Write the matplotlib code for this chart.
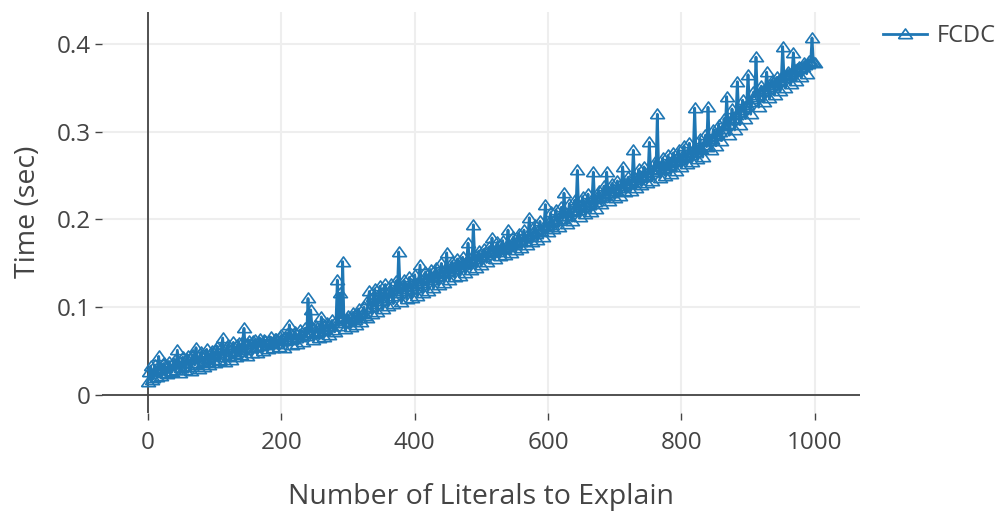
import numpy as np
import matplotlib.pyplot as plt

# literals to explain (x) and solve time in seconds (y)
# points at x = 0, 4, 8, ... 1000
literals = list(range(0, 1001, 4))
time_sec = [
    0.015, 0.033, 0.019, 0.030, 0.044, 0.022, 0.036, 0.024, 0.038, 0.026,
    0.040, 0.051, 0.025, 0.043, 0.028, 0.045, 0.027, 0.046, 0.054, 0.030,
    0.049, 0.032, 0.052, 0.034, 0.050, 0.036, 0.055, 0.040, 0.065, 0.038,
    0.057, 0.040, 0.060, 0.043, 0.059, 0.046, 0.076, 0.045, 0.062, 0.048,
    0.063, 0.048, 0.064, 0.050, 0.061, 0.052, 0.066, 0.053, 0.064, 0.055,
    0.068, 0.054, 0.070, 0.080, 0.057, 0.072, 0.058, 0.074, 0.060, 0.076,
    0.110, 0.097, 0.063, 0.079, 0.065, 0.089, 0.066, 0.082, 0.068, 0.085,
    0.072, 0.131, 0.116, 0.152, 0.075, 0.090, 0.078, 0.094, 0.080, 0.098,
    0.083, 0.100, 0.088, 0.118, 0.092, 0.121, 0.095, 0.124, 0.098, 0.126,
    0.101, 0.127, 0.104, 0.130, 0.163, 0.106, 0.131, 0.109, 0.134, 0.111,
    0.137, 0.113, 0.148, 0.116, 0.140, 0.119, 0.143, 0.122, 0.145, 0.125,
    0.150, 0.128, 0.162, 0.131, 0.152, 0.134, 0.155, 0.136, 0.157, 0.139,
    0.173, 0.143, 0.194, 0.145, 0.164, 0.148, 0.166, 0.151, 0.169, 0.179,
    0.155, 0.174, 0.158, 0.176, 0.160, 0.188, 0.162, 0.180, 0.165, 0.184,
    0.168, 0.188, 0.171, 0.202, 0.174, 0.194, 0.177, 0.198, 0.180, 0.217,
    0.186, 0.208, 0.189, 0.211, 0.192, 0.214, 0.230, 0.195, 0.218, 0.198,
    0.222, 0.256, 0.203, 0.226, 0.206, 0.229, 0.209, 0.254, 0.212, 0.233,
    0.218, 0.238, 0.254, 0.221, 0.241, 0.224, 0.244, 0.227, 0.260, 0.231,
    0.248, 0.233, 0.279, 0.236, 0.257, 0.239, 0.260, 0.242, 0.288, 0.244,
    0.266, 0.320, 0.247, 0.270, 0.250, 0.273, 0.252, 0.276, 0.255, 0.279,
    0.260, 0.284, 0.263, 0.287, 0.266, 0.327, 0.269, 0.292, 0.271, 0.296,
    0.328, 0.279, 0.302, 0.284, 0.308, 0.290, 0.315, 0.340, 0.296, 0.326,
    0.302, 0.357, 0.308, 0.336, 0.315, 0.365, 0.320, 0.345, 0.385, 0.328,
    0.352, 0.334, 0.368, 0.338, 0.358, 0.342, 0.362, 0.346, 0.397, 0.350,
    0.368, 0.354, 0.390, 0.358, 0.374, 0.362, 0.378, 0.366, 0.381, 0.407,
    0.378,
]
# points in between, at x = 2, 6, 10, ... 998
literals_mid = list(range(2, 1000, 4))
time_sec_mid = [
    0.026, 0.017, 0.034, 0.021, 0.031, 0.035, 0.025, 0.033, 0.027, 0.037,
    0.029, 0.038, 0.031, 0.036, 0.041, 0.032, 0.044, 0.034, 0.037, 0.047,
    0.036, 0.046, 0.038, 0.048, 0.040, 0.051, 0.039, 0.053, 0.043, 0.055,
    0.044, 0.054, 0.047, 0.057, 0.049, 0.062, 0.051, 0.058, 0.053, 0.061,
    0.055, 0.060, 0.056, 0.063, 0.057, 0.061, 0.059, 0.064, 0.058, 0.066,
    0.061, 0.066, 0.063, 0.069, 0.064, 0.070, 0.066, 0.068, 0.071, 0.067,
    0.072, 0.078, 0.070, 0.076, 0.073, 0.081, 0.075, 0.078, 0.079, 0.074,
    0.084, 0.079, 0.088, 0.082, 0.087, 0.083, 0.089, 0.086, 0.092, 0.088,
    0.094, 0.090, 0.108, 0.100, 0.112, 0.104, 0.115, 0.107, 0.118, 0.110,
    0.118, 0.113, 0.121, 0.116, 0.124, 0.119, 0.123, 0.121, 0.126, 0.124,
    0.126, 0.130, 0.128, 0.133, 0.131, 0.135, 0.133, 0.138, 0.136, 0.140,
    0.139, 0.144, 0.141, 0.146, 0.144, 0.148, 0.146, 0.150, 0.149, 0.153,
    0.156, 0.152, 0.158, 0.155, 0.160, 0.157, 0.162, 0.160, 0.164, 0.163,
    0.166, 0.163, 0.168, 0.166, 0.171, 0.169, 0.173, 0.171, 0.176, 0.174,
    0.180, 0.176, 0.183, 0.180, 0.186, 0.184, 0.189, 0.187, 0.193, 0.191,
    0.197, 0.194, 0.201, 0.198, 0.204, 0.201, 0.207, 0.204, 0.210, 0.208,
    0.214, 0.211, 0.217, 0.214, 0.220, 0.217, 0.223, 0.220, 0.226, 0.224,
    0.229, 0.227, 0.232, 0.230, 0.235, 0.233, 0.238, 0.236, 0.242, 0.240,
    0.244, 0.242, 0.247, 0.245, 0.250, 0.248, 0.253, 0.251, 0.256, 0.254,
    0.258, 0.256, 0.261, 0.259, 0.264, 0.262, 0.267, 0.265, 0.270, 0.268,
    0.273, 0.271, 0.276, 0.274, 0.279, 0.277, 0.282, 0.280, 0.285, 0.283,
    0.289, 0.292, 0.295, 0.297, 0.300, 0.303, 0.306, 0.309, 0.313, 0.316,
    0.319, 0.322, 0.325, 0.328, 0.331, 0.334, 0.337, 0.340, 0.342, 0.345,
    0.347, 0.349, 0.351, 0.353, 0.355, 0.357, 0.359, 0.361, 0.363, 0.365,
    0.366, 0.368, 0.370, 0.371, 0.373, 0.374, 0.376, 0.377, 0.379, 0.380,
]
x_ticks = [0, 200, 400, 600, 800, 1000]
y_ticks = [0, 0.1, 0.2, 0.3, 0.4]
y_tick_labels = ['0', '0.1', '0.2', '0.3', '0.4']

# one series, ordered by x
x_all, y_all = [], []
for i in range(len(literals_mid)):
    x_all += [literals[i], literals_mid[i]]
    y_all += [time_sec[i], time_sec_mid[i]]
x_all.append(literals[-1])
y_all.append(time_sec[-1])

plt.rcParams['font.family'] = ['Open Sans', 'DejaVu Sans']
blue = '#1f77b4'
grey = '#444444'

# plotly-like wide triangle
tri = [(-1, -0.6), (1, -0.6), (0, 0.8), (-1, -0.6)]

fig = plt.figure(figsize=(10, 5.12), dpi=100)
ax = fig.add_axes([0.102, 0.1934, 0.758, 0.7832])

ax.plot(x_all, y_all, color=blue, lw=2.0, marker=tri, markersize=10,
        markerfacecolor='none', markeredgecolor=blue, markeredgewidth=1.2,
        label='FCDC', zorder=3)

ax.set_xlim(-69, 1068)
ax.set_ylim(-0.0205, 0.4365)
ax.set_xticks(x_ticks)
ax.set_yticks(y_ticks)
ax.set_yticklabels(y_tick_labels)
ax.grid(True, color='#eeeeee', lw=1.5)
ax.axhline(0, color=grey, lw=1.3, zorder=2)
ax.axvline(0, color=grey, lw=1.3, zorder=2)
for s in ax.spines.values():
    s.set_visible(False)
ax.tick_params(axis='both', colors=grey, length=5, width=1, labelsize=17.5)
ax.tick_params(axis='x', pad=8)
ax.tick_params(axis='y', pad=3)

fig.text(0.481, 1 - 497 / 512, 'Number of Literals to Explain', fontsize=20.5,
         color=grey, ha='center', va='center')
fig.text(0.028, 1 - 212 / 512, 'Time (sec)', fontsize=20.5, color=grey,
         ha='center', va='center', rotation=90)

fig.legend(loc='center left', bbox_to_anchor=(0.883, 1 - 36 / 512), frameon=False,
           fontsize=17, handlelength=1.86, handletextpad=0.42,
           borderaxespad=0, borderpad=0, labelcolor=grey)

fig.savefig('out.png', dpi=100)
